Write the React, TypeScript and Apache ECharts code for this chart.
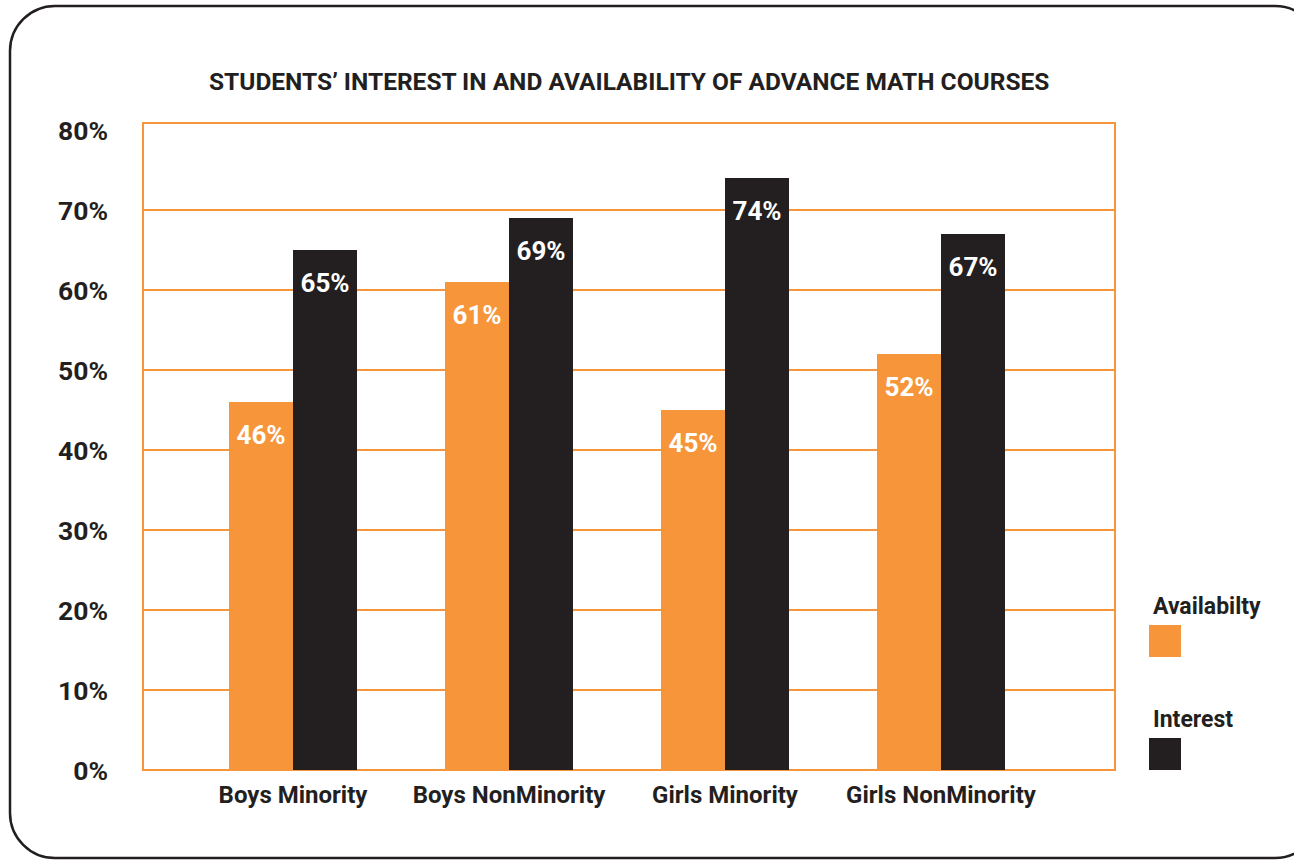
import React, { useEffect, useRef } from "react";
import * as echarts from "echarts";

const categories = ["Boys Minority", "Boys NonMinority", "Girls Minority", "Girls NonMinority"];
const availability = [46, 61, 45, 52];
const interest = [65, 69, 74, 67];
const seriesNames = ["Availabilty", "Interest"];
const titleText = "STUDENTS\u2019 INTEREST IN AND AVAILABILITY OF ADVANCE MATH COURSES";

const ORANGE = "#F7953A";
const DARK = "#231F20";
const FONT = "Roboto, 'Liberation Sans', sans-serif";

export default function App() {
  const ref = useRef<HTMLDivElement>(null);
  useEffect(() => {
    if (!ref.current) return;
    const chart = echarts.init(ref.current, null, { renderer: "svg" });
    const label = {
      show: true,
      position: "insideTop",
      distance: 20,
      color: "#ffffff",
      fontFamily: FONT,
      fontWeight: "bold",
      fontSize: 26,
      formatter: "{c}%",
    };
    chart.setOption({
      animation: false,
      backgroundColor: "#ffffff",
      title: {
        text: titleText,
        left: 204,
        top: 64,
        textStyle: { fontFamily: FONT, fontWeight: "bold", fontSize: 24.5, color: DARK },
      },
      grid: [
        { left: 143, right: 179, top: 130, bottom: 90 },
        { left: 185, right: 245, top: 130, bottom: 90 },
      ],
      xAxis: [
        { gridIndex: 0, type: "value", show: false, min: 0, max: 1 },
        {
          gridIndex: 1,
          type: "category",
          data: categories,
          axisLine: { show: false },
          axisTick: { show: false },
          axisLabel: {
            margin: 13,
            fontFamily: FONT,
            fontWeight: "bold",
            fontSize: 24,
            color: DARK,
            interval: 0,
          },
        },
      ],
      yAxis: [
        {
          gridIndex: 0,
          type: "value",
          min: 0,
          max: 80,
          interval: 10,
          axisLine: { show: false },
          axisTick: { show: false },
          axisLabel: {
            margin: 35,
            formatter: "{value}%",
            fontFamily: FONT,
            fontWeight: "bold",
            fontSize: 26.5,
            color: DARK,
          },
          splitLine: {
            show: true,
            lineStyle: {
              width: 2,
              color: [ORANGE, ORANGE, ORANGE, ORANGE, ORANGE, ORANGE, ORANGE, ORANGE, "rgba(0,0,0,0)"],
            },
          },
        },
        { gridIndex: 1, type: "value", min: 0, max: 80, show: false },
      ],
      series: [
        {
          name: seriesNames[0],
          type: "bar",
          xAxisIndex: 1,
          yAxisIndex: 1,
          data: availability,
          barWidth: 64,
          barGap: "0%",
          itemStyle: { color: ORANGE },
          label,
        },
        {
          name: seriesNames[1],
          type: "bar",
          xAxisIndex: 1,
          yAxisIndex: 1,
          data: interest,
          barWidth: 64,
          barGap: "0%",
          itemStyle: { color: DARK },
          label,
        },
      ],
      graphic: [
        {
          type: "rect",
          shape: { x: 10, y: 6, width: 1310, height: 852, r: 45 },
          style: { fill: "none", stroke: DARK, lineWidth: 2.5 },
          silent: true,
        },
        {
          type: "rect",
          shape: { x: 143, y: 123, width: 972, height: 647 },
          style: { fill: "none", stroke: ORANGE, lineWidth: 2 },
          silent: true,
        },
        {
          type: "text",
          x: 1153,
          y: 595,
          style: { text: seriesNames[0], fill: DARK, fontFamily: FONT, fontWeight: "bold", fontSize: 23 },
        },
        {
          type: "rect",
          shape: { x: 1149, y: 625, width: 32, height: 32 },
          style: { fill: ORANGE },
        },
        {
          type: "text",
          x: 1153,
          y: 708,
          style: { text: seriesNames[1], fill: DARK, fontFamily: FONT, fontWeight: "bold", fontSize: 23 },
        },
        {
          type: "rect",
          shape: { x: 1149, y: 738, width: 32, height: 32 },
          style: { fill: DARK },
        },
      ],
    });
    return () => chart.dispose();
  }, []);
  return (
    <div
      ref={ref}
      style={{ position: "absolute", left: 0, top: 0, width: 1294, height: 860 }}
    />
  );
}
